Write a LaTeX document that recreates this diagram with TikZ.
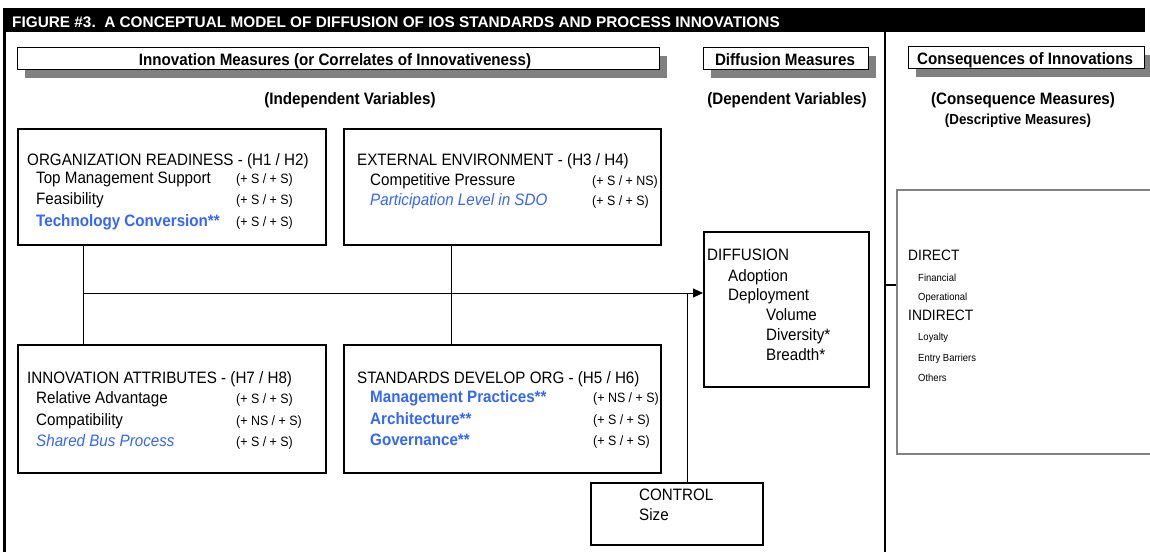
\documentclass[tikz,border=0pt]{standalone}
\usepackage{fontspec}
\setmainfont[FakeStretch=0.92]{Liberation Sans}
\newfontfamily\titlefont{Liberation Sans}
\usetikzlibrary{arrows.meta}
\definecolor{sblue}{RGB}{51,102,255}
\definecolor{shadowgray}{RGB}{128,128,128}
\definecolor{consgray}{RGB}{130,130,130}
\begin{document}
\begin{tikzpicture}[x=1pt,y=-1pt,
  box/.style={draw=black, line width=1.8pt, fill=white, anchor=north west, inner sep=0pt},
  hdr/.style={draw=black, line width=1.2pt, fill=white, anchor=north west, inner sep=0pt},
  txt/.style={anchor=base west, inner sep=0pt, font=\fontsize{16.5}{19}\selectfont},
  mid/.style={anchor=base west, inner sep=0pt, font=\fontsize{15}{18}\selectfont},
  val/.style={anchor=base west, inner sep=0pt, font=\fontsize{13.5}{16}\selectfont},
  sm/.style={anchor=base west, inner sep=0pt, font=\fontsize{10.3}{12}\selectfont},
  bhd/.style={anchor=base, inner sep=0pt, font=\bfseries\fontsize{16.5}{19}\selectfont},
  bl/.style={text=sblue, font=\bfseries\fontsize{16.5}{19}\selectfont},
  il/.style={text=sblue, font=\itshape\fontsize{16.5}{19}\selectfont},
  conn/.style={draw=black, line width=0.9pt},
  shadow/.style={fill=shadowgray},
]
\useasboundingbox (0,0) rectangle (1150,552);

% title bar and frame lines
\fill[black] (5,8) rectangle (1145,32);
\node[anchor=base west, inner sep=0pt, text=white, font=\titlefont\bfseries\fontsize{15.35}{18}\selectfont] (title) at (12,27) {FIGURE \#3.\ \ A CONCEPTUAL MODEL OF DIFFUSION OF IOS STANDARDS AND PROCESS INNOVATIONS};
\draw[line width=3pt] (4.5,8) -- (4.5,552);
\draw[line width=2pt] (885,32) -- (885,552);

% header boxes with shadows
\fill[shadow] (25,56) rectangle (667,78);
\node[hdr, minimum width=642, minimum height=22] (h1) at (17,47) {};
\node[bhd] (h1t) at (335,65) {Innovation Measures (or Correlates of Innovativeness)};

\fill[shadow] (711,56) rectangle (876,78);
\node[hdr, minimum width=165, minimum height=22] (h2) at (703,47) {};
\node[bhd] (h2t) at (785,65) {Diffusion Measures};

\fill[shadow] (916,55) rectangle (1152,77);
\node[hdr, minimum width=236, minimum height=22] (h3) at (908,46) {};
\node[bhd] (h3t) at (1025,64) {Consequences of Innovations};

\node[bhd] (s1) at (350,104) {(Independent Variables)};
\node[bhd] (s2) at (787,104) {(Dependent Variables)};
\node[bhd] (s3) at (1023,104) {(Consequence Measures)};
\node[bhd, font=\bfseries\fontsize{14.5}{16}\selectfont] (s4) at (1018,124) {(Descriptive Measures)};

% main boxes
\node[box, minimum width=308, minimum height=116] (org) at (17,128) {};
\node[box, minimum width=317, minimum height=116] (ext) at (343,128) {};
\node[box, minimum width=308, minimum height=128] (inn) at (17,344) {};
\node[box, minimum width=317, minimum height=128] (std) at (343,344) {};
\node[box, minimum width=172, minimum height=62] (ctrl) at (590,482) {};
\node[box, minimum width=165, minimum height=155] (diff) at (703,231) {};
\node[box, draw=consgray, minimum width=262, minimum height=264] (cons) at (896,189) {};

% connectors
\coordinate (j1) at (83,293);
\coordinate (j2) at (687,293);
\coordinate (j3) at (885,285);
\draw[conn] ([xshift=66pt]org.south west) -- ([xshift=66pt]inn.north west);
\draw[conn] ([xshift=108pt]ext.south west) -- ([xshift=108pt]std.north west);
\draw[conn, -{Triangle[length=10pt,width=9pt]}] (j1) -- (j1 -| diff.west);
\draw[conn] (ctrl.north -| j2) -- (j2);
\draw[line width=1.5pt] (j3) -- (j3 -| cons.west);

% ORGANIZATION READINESS
\node[txt] (o0) at (27,165) {ORGANIZATION READINESS - (H1 / H2)};
\node[txt] (o1) at (36,183) {Top Management Support};
\node[txt] (o2) at (36,204.5) {Feasibility};
\node[txt, bl] (o3) at (36,226) {Technology Conversion**};
\node[val] (ov1) at (236,183) {(+ S / + S)};
\node[val] (ov2) at (236,204.5) {(+ S / + S)};
\node[val] (ov3) at (236,226) {(+ S / + S)};

% EXTERNAL ENVIRONMENT
\node[txt] (e0) at (357,165.5) {EXTERNAL ENVIRONMENT - (H3 / H4)};
\node[txt] (e1) at (370,185) {Competitive Pressure};
\node[txt, il] (e2) at (370,205.7) {Participation Level in SDO};
\node[val] (ev1) at (592,185) {(+ S / + NS)};
\node[val] (ev2) at (592,205.7) {(+ S / + S)};

% INNOVATION ATTRIBUTES
\node[txt] (i0) at (27,383) {INNOVATION ATTRIBUTES - (H7 / H8)};
\node[txt] (i1) at (36,403) {Relative Advantage};
\node[txt] (i2) at (36,425) {Compatibility};
\node[txt, il] (i3) at (36,446.7) {Shared Bus Process};
\node[val] (iv1) at (236,403) {(+ S / + S)};
\node[val] (iv2) at (236,425) {(+ NS / + S)};
\node[val] (iv3) at (236,446.7) {(+ S / + S)};

% STANDARDS DEVELOP ORG
\node[txt] (d0) at (357,383) {STANDARDS DEVELOP ORG - (H5 / H6)};
\node[txt, bl] (d1) at (370,402.7) {Management Practices**};
\node[txt, bl] (d2) at (370,424) {Architecture**};
\node[txt, bl] (d3) at (370,445.7) {Governance**};
\node[val] (dv1) at (593,402.7) {(+ NS / + S)};
\node[val] (dv2) at (593,424) {(+ S / + S)};
\node[val] (dv3) at (593,445.7) {(+ S / + S)};

% DIFFUSION
\node[txt] (f0) at (707,260) {DIFFUSION};
\node[txt] (f1) at (728,281) {Adoption};
\node[txt] (f2) at (728,300.7) {Deployment};
\node[txt] (f3) at (766,320) {Volume};
\node[txt] (f4) at (766,340) {Diversity*};
\node[txt] (f5) at (766,360) {Breadth*};

% CONSEQUENCES
\node[mid] (c0) at (908,260) {DIRECT};
\node[sm] (c1) at (918,281) {Financial};
\node[sm] (c2) at (918,300) {Operational};
\node[mid] (c3) at (908,320.7) {INDIRECT};
\node[sm] (c4) at (918,340) {Loyalty};
\node[sm] (c5) at (918,361) {Entry Barriers};
\node[sm] (c6) at (918,381.7) {Others};

% CONTROL
\node[txt] (k0) at (639,500) {CONTROL};
\node[txt] (k1) at (639,520) {Size};
\end{tikzpicture}
\end{document}
